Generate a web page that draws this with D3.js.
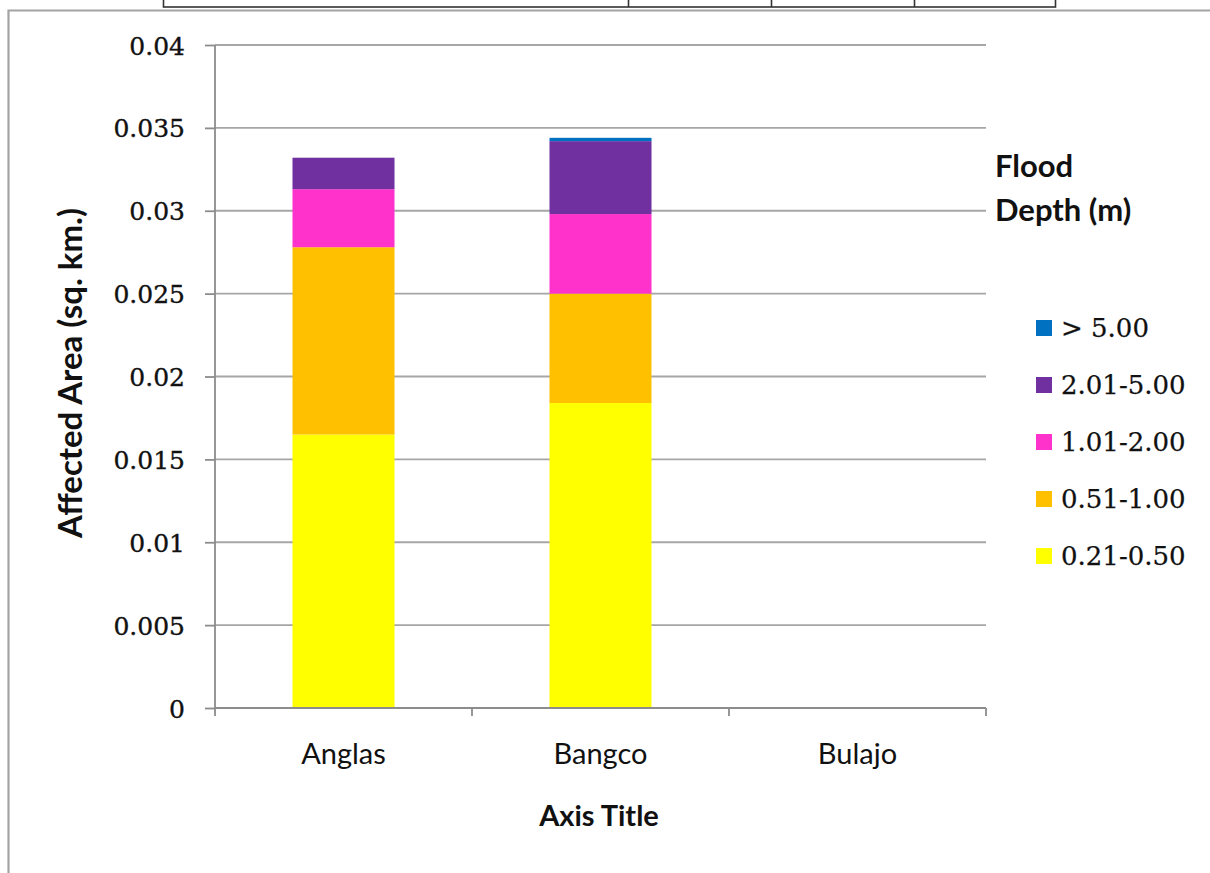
<!DOCTYPE html>
<html>
<head>
<meta charset="utf-8">
<script src="https://cdn.jsdelivr.net/npm/d3@7"></script>
<style>
  html, body { margin: 0; padding: 0; background: #fff; }
  svg { display: block; }
</style>
</head>
<body>
<svg id="chart" width="1210" height="873"></svg>
<script>
// Flooded area per barangay, stacked by flood depth class (sq. km.)
const categories = ["Anglas", "Bangco", "Bulajo"];
const depthClasses = ["0.21-0.50", "0.51-1.00", "1.01-2.00", "2.01-5.00", "> 5.00"];
const depth021_050 = [0.0165, 0.0184, 0];
const depth051_100 = [0.0113, 0.0066, 0];
const depth101_200 = [0.0035, 0.0048, 0];
const depth201_500 = [0.0019, 0.0044, 0];
const depthOver500 = [0, 0.0002, 0];
const seriesValues = [depth021_050, depth051_100, depth101_200, depth201_500, depthOver500];
const seriesColors = ["#FFFF00", "#FFC000", "#FF33CC", "#7030A0", "#0070C0"];
const yTickValues = [0, 0.005, 0.01, 0.015, 0.02, 0.025, 0.03, 0.035, 0.04];
const yTickLabels = ["0", "0.005", "0.01", "0.015", "0.02", "0.025", "0.03", "0.035", "0.04"];

const svg = d3.select("#chart");
const plot = { left: 215, right: 986, top: 45, bottom: 708 };

const rows = categories.map((c, i) => {
  const r = { category: c };
  depthClasses.forEach((k, j) => { r[k] = seriesValues[j][i]; });
  return r;
});
const stacked = d3.stack().keys(depthClasses)(rows);

const x = d3.scaleBand().domain(categories)
  .range([plot.left, plot.right]).paddingInner(0.603).paddingOuter(0.3015);
const y = d3.scaleLinear().domain([0, 0.04]).range([plot.bottom, plot.top]);

const frameColor = "#a3a3a3";
const gridColor = "#a6a6a6";
const axisColor = "#8c8c8c";
const serif = "DejaVu Serif";
const sans = "Lato";

// page table remnant above the chart frame
const table = svg.append("g").attr("stroke", "#333").attr("stroke-width", 1.6).attr("fill", "none");
table.append("rect").attr("x", 163.5).attr("y", -6).attr("width", 892).attr("height", 13);
[628.5, 771.5, 914.5].forEach(v => table.append("line").attr("x1", v).attr("x2", v).attr("y1", -6).attr("y2", 7));

// chart frame
svg.append("path").attr("d", "M8.5,873V10.5H1210")
  .attr("fill", "none").attr("stroke", frameColor).attr("stroke-width", 2.2);

// gridlines
svg.append("g").selectAll("line").data(yTickValues.filter(v => v > 0)).join("line")
  .attr("x1", plot.left).attr("x2", plot.right)
  .attr("y1", d => y(d)).attr("y2", d => y(d))
  .attr("stroke", gridColor).attr("stroke-width", 1.8);

// bars
svg.append("g").selectAll("g").data(stacked).join("g")
  .attr("fill", (d, i) => seriesColors[i])
  .selectAll("rect").data(d => d).join("rect")
  .attr("x", d => x(d.data.category))
  .attr("width", x.bandwidth())
  .attr("y", d => y(d[1]))
  .attr("height", d => y(d[0]) - y(d[1]));

// y axis
const yAxis = svg.append("g").attr("transform", `translate(${plot.left},0)`)
  .call(d3.axisLeft(y).tickValues(yTickValues).tickSize(10).tickPadding(20)
    .tickFormat((d, i) => yTickLabels[i]));
yAxis.selectAll("line, path").attr("stroke", axisColor).attr("stroke-width", 1.8);
yAxis.selectAll(".tick line").attr("x2", -10);
yAxis.select(".domain").attr("d", `M0,${plot.top}V${plot.bottom}`);
yAxis.selectAll("text").attr("x", -30).attr("fill", "#111").attr("font-family", serif)
  .attr("font-size", 25).attr("dy", "0.36em")
  .attr("stroke", "#111").attr("stroke-width", 0.35);

// x axis with tick marks on category boundaries
const step = x.step();
const xAxis = svg.append("g").attr("transform", `translate(0,${plot.bottom})`);
xAxis.append("line").attr("x1", plot.left).attr("x2", plot.right)
  .attr("stroke", axisColor).attr("stroke-width", 1.8);
xAxis.selectAll("line.tick").data(d3.range(categories.length + 1)).join("line")
  .attr("class", "tick")
  .attr("x1", i => plot.left + i * step).attr("x2", i => plot.left + i * step)
  .attr("y1", 0).attr("y2", 8).attr("stroke", axisColor).attr("stroke-width", 1.8);
xAxis.selectAll("text").data(categories).join("text")
  .attr("x", d => x(d) + x.bandwidth() / 2).attr("y", 56)
  .attr("text-anchor", "middle").attr("font-family", sans).attr("font-size", 29)
  .attr("fill", "#111").text(d => d);

// axis titles
svg.append("text").attr("x", 599).attr("y", 826).attr("text-anchor", "middle")
  .attr("font-family", sans).attr("font-weight", "bold").attr("font-size", 29)
  .attr("fill", "#111").text("Axis Title");
svg.append("text").attr("transform", "translate(82,373) rotate(-90)").attr("text-anchor", "middle")
  .attr("font-family", sans).attr("font-weight", "bold").attr("font-size", 33)
  .attr("fill", "#111").text("Affected Area (sq. km.)");

// legend
const legend = svg.append("g");
legend.append("text").attr("x", 995).attr("y", 177)
  .attr("font-family", sans).attr("font-weight", "bold").attr("font-size", 31)
  .attr("fill", "#111").text("Flood");
legend.append("text").attr("x", 995).attr("y", 221)
  .attr("font-family", sans).attr("font-weight", "bold").attr("font-size", 31)
  .attr("fill", "#111").text("Depth (m)");
const legendOrder = d3.range(depthClasses.length).reverse();
const item = legend.selectAll("g.item").data(legendOrder).join("g")
  .attr("class", "item")
  .attr("transform", (d, k) => `translate(1036,${328 + k * 57})`);
item.append("rect").attr("x", 0).attr("y", -8).attr("width", 16).attr("height", 16)
  .attr("fill", d => seriesColors[d]);
item.append("text").attr("x", 25).attr("y", 0).attr("dy", "0.36em")
  .attr("font-family", serif).attr("font-size", 26).attr("fill", "#111")
  .attr("stroke", "#111").attr("stroke-width", 0.25)
  .text(d => depthClasses[d]);
</script>
</body>
</html>
